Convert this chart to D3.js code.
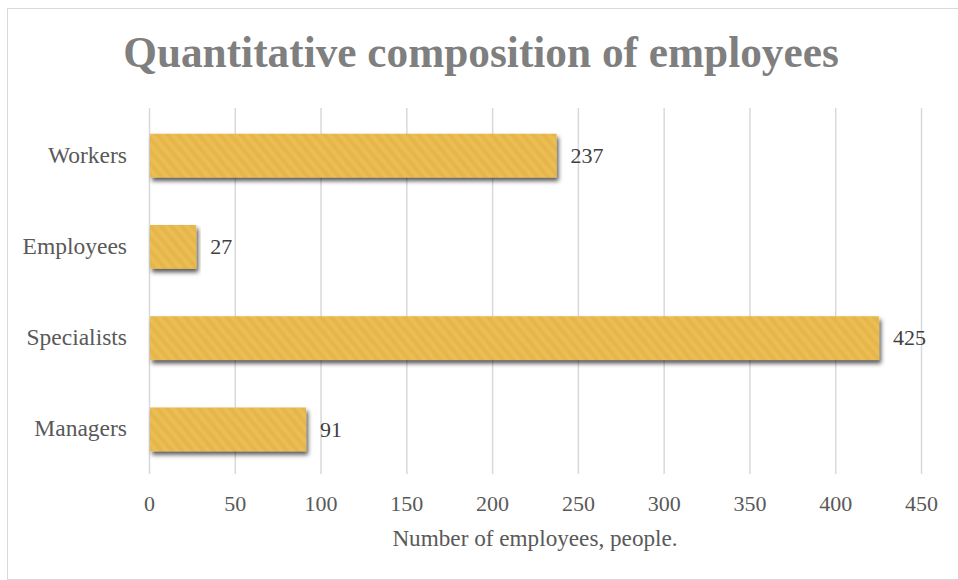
<!DOCTYPE html>
<html><head><meta charset="utf-8">
<script src="https://cdn.jsdelivr.net/npm/d3@7"></script>
<style>html,body{margin:0;padding:0;background:#fff;}svg{display:block;}</style>
</head><body>
<svg id="c" width="958" height="580"></svg>
<script>
const categories = ["Workers", "Employees", "Specialists", "Managers"];
const values = [237, 27, 425, 91];
const xTicks = [0, 50, 100, 150, 200, 250, 300, 350, 400, 450];
const title = "Quantitative composition of employees";
const xTitle = "Number of employees, people.";

const W = 958, H = 580;
const m = {left: 149, right: 37, top: 110, bottom: 105};
const svg = d3.select("#c");
const serif = "'Liberation Serif', 'DejaVu Serif', serif";

// chart frame
svg.append("rect").attr("x", 7.5).attr("y", 8.5).attr("width", W - 7).attr("height", H - 9)
  .attr("fill", "#fff").attr("stroke", "#d9d9d9").attr("stroke-width", 1);

const defs = svg.append("defs");
const pat = defs.append("pattern").attr("id", "stripe").attr("patternUnits", "userSpaceOnUse")
  .attr("width", 8).attr("height", 8).attr("patternTransform", "rotate(-40)");
pat.append("rect").attr("width", 8).attr("height", 8).attr("fill", "#EABD54");
pat.append("rect").attr("width", 4).attr("height", 8).attr("fill", "#E2B144").attr("opacity", 0.6);
const f = defs.append("filter").attr("id", "sh").attr("x", "-5%").attr("y", "-20%").attr("width", "115%").attr("height", "170%");
f.append("feDropShadow").attr("dx", 2).attr("dy", 3.5).attr("stdDeviation", 2).attr("flood-color", "#000").attr("flood-opacity", 0.65);

const x = d3.scaleLinear().domain([0, 450]).range([m.left, W - m.right]);
const y = d3.scaleBand().domain(categories).range([m.top, H - m.bottom]).paddingInner(0.52).paddingOuter(0.26);

// gridlines
svg.append("g").selectAll("line").data(xTicks).join("line")
  .attr("x1", d => x(d) + 0.5).attr("x2", d => x(d) + 0.5)
  .attr("y1", m.top - 2).attr("y2", H - m.bottom - 1)
  .attr("stroke", "#d9d9d9").attr("stroke-width", 1.5);

// x axis
const xa = svg.append("g").attr("transform", `translate(0,${H - m.bottom})`)
  .call(d3.axisBottom(x).tickValues(xTicks).tickSize(0));
xa.select(".domain").remove();
xa.selectAll("text").attr("y", 36).attr("dy", 0)
  .attr("font-family", serif).attr("font-size", 22).attr("fill", "#595959");

// y axis
const ya = svg.append("g").attr("transform", `translate(${m.left - 22},0)`)
  .call(d3.axisLeft(y).tickSize(0).tickPadding(0));
ya.select(".domain").remove();
ya.selectAll("text").attr("dy", "0.3em").attr("font-family", serif).attr("font-size", 23.5).attr("fill", "#595959");

// bars
const data = categories.map((c, i) => ({c, v: values[i]}));
svg.append("g").selectAll("rect").data(data).join("rect")
  .attr("x", x(0) + 1).attr("y", d => y(d.c))
  .attr("width", d => x(d.v) - x(0)).attr("height", y.bandwidth())
  .attr("fill", "url(#stripe)").attr("filter", "url(#sh)");

// labels
svg.append("g").selectAll("text").data(data).join("text")
  .attr("x", d => x(d.v) + 15).attr("y", d => y(d.c) + y.bandwidth() / 2)
  .attr("dy", "0.33em").attr("font-family", serif).attr("font-size", 22).attr("fill", "#404040")
  .text(d => d.v);

// title
svg.append("text").attr("x", 481).attr("y", 67).attr("text-anchor", "middle")
  .attr("font-family", serif).attr("font-weight", "bold").attr("font-size", 43.3).attr("fill", "#7f7f7f")
  .text(title);

// axis title
svg.append("text").attr("x", x(225)).attr("y", 546).attr("text-anchor", "middle")
  .attr("font-family", serif).attr("font-size", 23.2).attr("fill", "#595959")
  .text(xTitle);
</script>
</body></html>
